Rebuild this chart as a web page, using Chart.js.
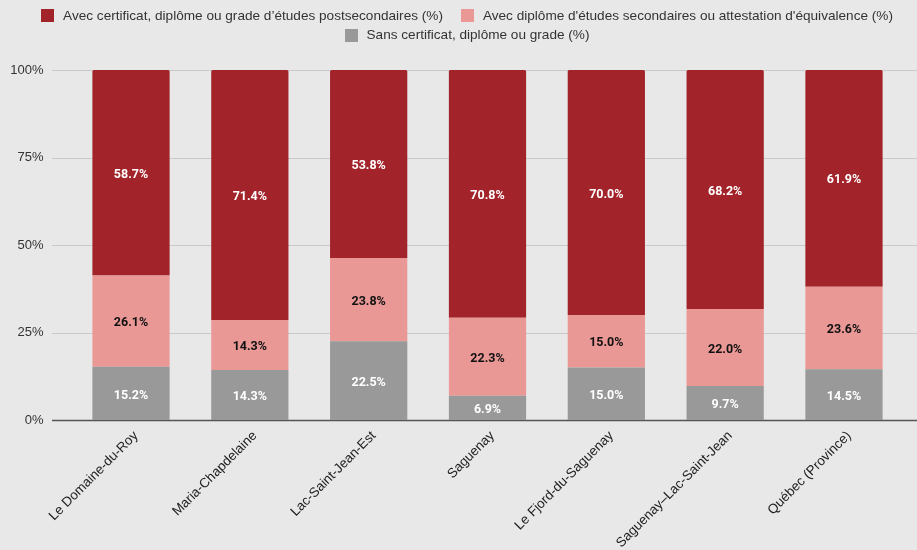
<!DOCTYPE html>
<html>
<head>
<meta charset="utf-8">
<script src="https://cdn.jsdelivr.net/npm/chart.js@4.4.0/dist/chart.umd.min.js"></script>
<style>
  html, body { margin: 0; padding: 0; background: #e8e8e8; }
  #wrap { width: 917px; height: 550px; position: relative; }
</style>
</head>
<body>
<div id="wrap"><canvas id="c" width="917" height="550"></canvas></div>
<script>
const categories = ["Le Domaine-du-Roy", "Maria-Chapdelaine", "Lac-Saint-Jean-Est", "Saguenay", "Le Fjord-du-Saguenay", "Saguenay–Lac-Saint-Jean", "Québec (Province)"];
const sansDiplome = [15.2, 14.3, 22.5, 6.9, 15.0, 9.7, 14.5];
const secondaire = [26.1, 14.3, 23.8, 22.3, 15.0, 22.0, 23.6];
const postsecondaire = [58.7, 71.4, 53.8, 70.8, 70.0, 68.2, 61.9];
const yTicks = [0, 25, 50, 75, 100];
const seriesNames = [
  "Sans certificat, diplôme ou grade (%)",
  "Avec diplôme d'études secondaires ou attestation d'équivalence (%)",
  "Avec certificat, diplôme ou grade d’études postsecondaires (%)"
];
const colors = ["#999999", "#e99896", "#a3232a"];
const labelColors = ["#ffffff", "#111111", "#ffffff"];
// legend rows (dataset indexes)
const legendRows = [[2, 1], [0]];

const raw = [sansDiplome, secondaire, postsecondaire];
const totals = categories.map((_, i) => raw.reduce((s, a) => s + a[i], 0));
const datasets = raw.map((arr, k) => ({
  label: seriesNames[k],
  data: arr.map((v, i) => v / totals[i] * 100),
  rawValues: arr,
  backgroundColor: colors[k],
  borderWidth: 0,
  borderRadius: k === 2 ? { topLeft: 1.5, topRight: 1.5, bottomLeft: 0, bottomRight: 0 } : 0,
  borderSkipped: false,
  barPercentage: 0.65,
  categoryPercentage: 1.0,
  stack: "s"
}));

const gridPlugin = {
  id: "grid",
  beforeDatasetsDraw(chart) {
    const ctx = chart.ctx;
    const y = chart.scales.y;
    ctx.save();
    yTicks.forEach(t => {
      const py = Math.round(y.getPixelForValue(t)) + 0.5;
      ctx.beginPath();
      ctx.moveTo(52, py);
      ctx.lineTo(chart.width, py);
      if (t === 0) { ctx.strokeStyle = "#555555"; ctx.lineWidth = 1.5; }
      else { ctx.strokeStyle = "#c9c9c9"; ctx.lineWidth = 1; }
      ctx.stroke();
    });
    ctx.restore();
  }
};

const labelPlugin = {
  id: "vals",
  afterDatasetsDraw(chart) {
    const ctx = chart.ctx;
    ctx.save();
    ctx.font = "bold 12.5px Roboto, 'Liberation Sans', sans-serif";
    ctx.textAlign = "center";
    ctx.textBaseline = "middle";
    chart.data.datasets.forEach((ds, k) => {
      const meta = chart.getDatasetMeta(k);
      meta.data.forEach((bar, i) => {
        ctx.fillStyle = labelColors[k];
        const cy = (bar.y + bar.base) / 2 + 2;
        ctx.fillText(ds.rawValues[i].toFixed(1) + "%", bar.x, cy);
      });
    });
    ctx.restore();
  }
};

const legendPlugin = {
  id: "customLegend",
  afterDraw(chart) {
    const ctx = chart.ctx;
    ctx.save();
    ctx.font = "13.6px 'Liberation Sans', Arial, sans-serif";
    ctx.textBaseline = "middle";
    ctx.textAlign = "left";
    const box = 13, textGap = 9, itemGap = 18, centerX = 467;
    const rowY = [15.5, 35];
    legendRows.forEach((row, r) => {
      const widths = row.map(k => box + textGap + ctx.measureText(chart.data.datasets[k].label).width);
      const total = widths.reduce((a, b) => a + b, 0) + itemGap * (row.length - 1);
      let x = centerX - total / 2;
      row.forEach((k, j) => {
        const ds = chart.data.datasets[k];
        ctx.fillStyle = ds.backgroundColor;
        ctx.fillRect(Math.round(x), Math.round(rowY[r] - box / 2), box, box);
        ctx.fillStyle = "#333333";
        ctx.fillText(ds.label, x + box + textGap, rowY[r] + 0.5);
        x += widths[j] + itemGap;
      });
    });
    ctx.restore();
  }
};

new Chart(document.getElementById("c"), {
  type: "bar",
  data: { labels: categories, datasets },
  plugins: [gridPlugin, labelPlugin, legendPlugin],
  options: {
    responsive: false,
    animation: false,
    devicePixelRatio: 1,
    layout: { padding: { left: 0, right: 13.6, top: 70, bottom: 0 } },
    plugins: {
      tooltip: { enabled: false },
      legend: { display: false }
    },
    scales: {
      x: {
        stacked: true,
        grid: { display: false, drawTicks: false },
        border: { display: false },
        ticks: {
          maxRotation: 45, minRotation: 45,
          padding: 8,
          labelOffset: 5,
          color: "#222222",
          font: { family: "'Liberation Sans', Arial, sans-serif", size: 13.4 }
        },
        afterFit(scale) { scale.height = 130; }
      },
      y: {
        stacked: true,
        min: 0, max: 100,
        afterBuildTicks(scale) { scale.ticks = yTicks.map(v => ({ value: v })); },
        grid: { display: false, drawTicks: false },
        border: { display: false },
        ticks: {
          padding: 28,
          color: "#333333",
          font: { family: "'Liberation Sans', Arial, sans-serif", size: 13 },
          callback: v => v + "%"
        },
        afterFit(scale) { scale.width = 71.6; }
      }
    }
  }
});
</script>
</body>
</html>
